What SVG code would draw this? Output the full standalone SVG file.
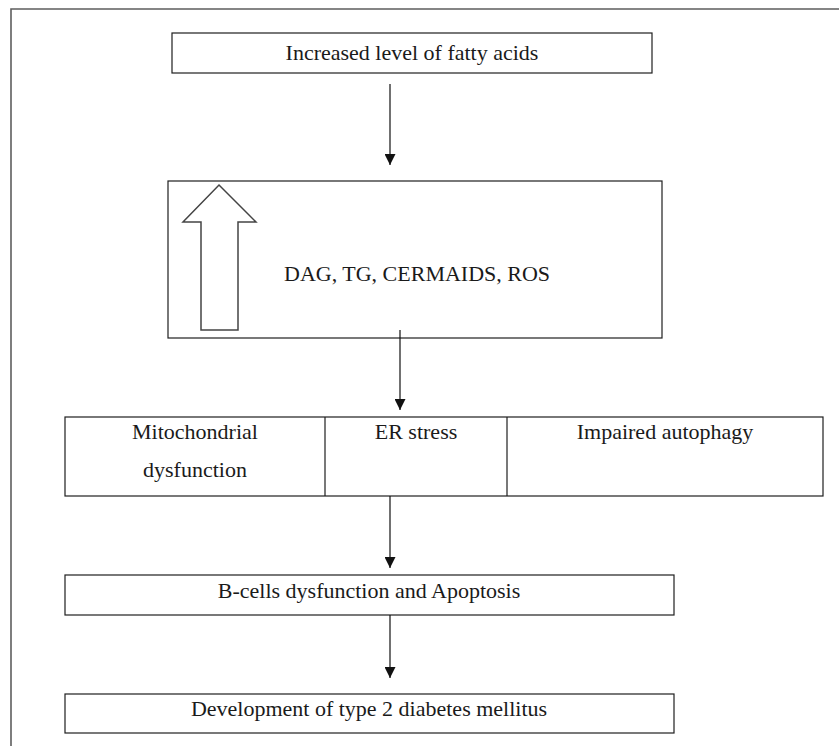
<svg xmlns="http://www.w3.org/2000/svg" width="839" height="746" viewBox="0 0 839 746">
<style>
  .box { fill: #ffffff; stroke: #1e1e1e; stroke-width: 1.2; }
  .t { font-family: "Liberation Serif", "Times New Roman", serif; font-size: 22px; fill: #1a1a1a; }
  .c { text-anchor: middle; }
  .conn { stroke: #111; stroke-width: 1.2; fill: none; marker-end: url(#ah); }
</style>
<defs>
  <marker id="ah" viewBox="0 0 11 11" refX="11" refY="5.5" markerWidth="11" markerHeight="11" markerUnits="userSpaceOnUse" orient="auto">
    <path d="M0,0 L11,5.5 L0,11 Z" fill="#111"/>
  </marker>
</defs>
<rect x="0" y="0" width="839" height="746" fill="#ffffff"/>
<path d="M11,746 V9 H839" fill="none" stroke="#5e5e5e" stroke-width="1.6"/>

<g id="n1">
  <rect class="box" x="172" y="33" width="480" height="40"/>
  <text class="t c" x="412" y="60">Increased level of fatty acids</text>
</g>
<g id="n2">
  <rect class="box" x="168" y="181" width="494" height="157"/>
  <polygon points="219,185 256,222 238,222 238,330 201,330 201,222 183,222" fill="#ffffff" stroke="#444" stroke-width="1.5"/>
  <text class="t" x="284" y="281">DAG, TG, CERMAIDS, ROS</text>
</g>
<g id="n3">
  <rect class="box" x="65" y="417" width="758" height="79"/>
  <line x1="325" y1="417" x2="325" y2="496" stroke="#1e1e1e" stroke-width="1.2"/>
  <line x1="507" y1="417" x2="507" y2="496" stroke="#1e1e1e" stroke-width="1.2"/>
  <text class="t c" x="195" y="439">Mitochondrial</text>
  <text class="t c" x="195" y="477">dysfunction</text>
  <text class="t c" x="416" y="439">ER stress</text>
  <text class="t c" x="665" y="439">Impaired autophagy</text>
</g>
<g id="n4">
  <rect class="box" x="65" y="575" width="609" height="40"/>
  <text class="t c" x="369" y="598">B-cells dysfunction and Apoptosis</text>
</g>
<g id="n5">
  <rect class="box" x="65" y="694" width="609" height="39"/>
  <text class="t c" x="369" y="716">Development of type 2 diabetes mellitus</text>
</g>

<g id="connectors">
  <line class="conn" x1="390" y1="84" x2="390" y2="165"/>
  <line class="conn" x1="400" y1="330" x2="400" y2="410"/>
  <line class="conn" x1="390" y1="496" x2="390" y2="568"/>
  <line class="conn" x1="390" y1="615" x2="390" y2="678"/>
</g>
</svg>
